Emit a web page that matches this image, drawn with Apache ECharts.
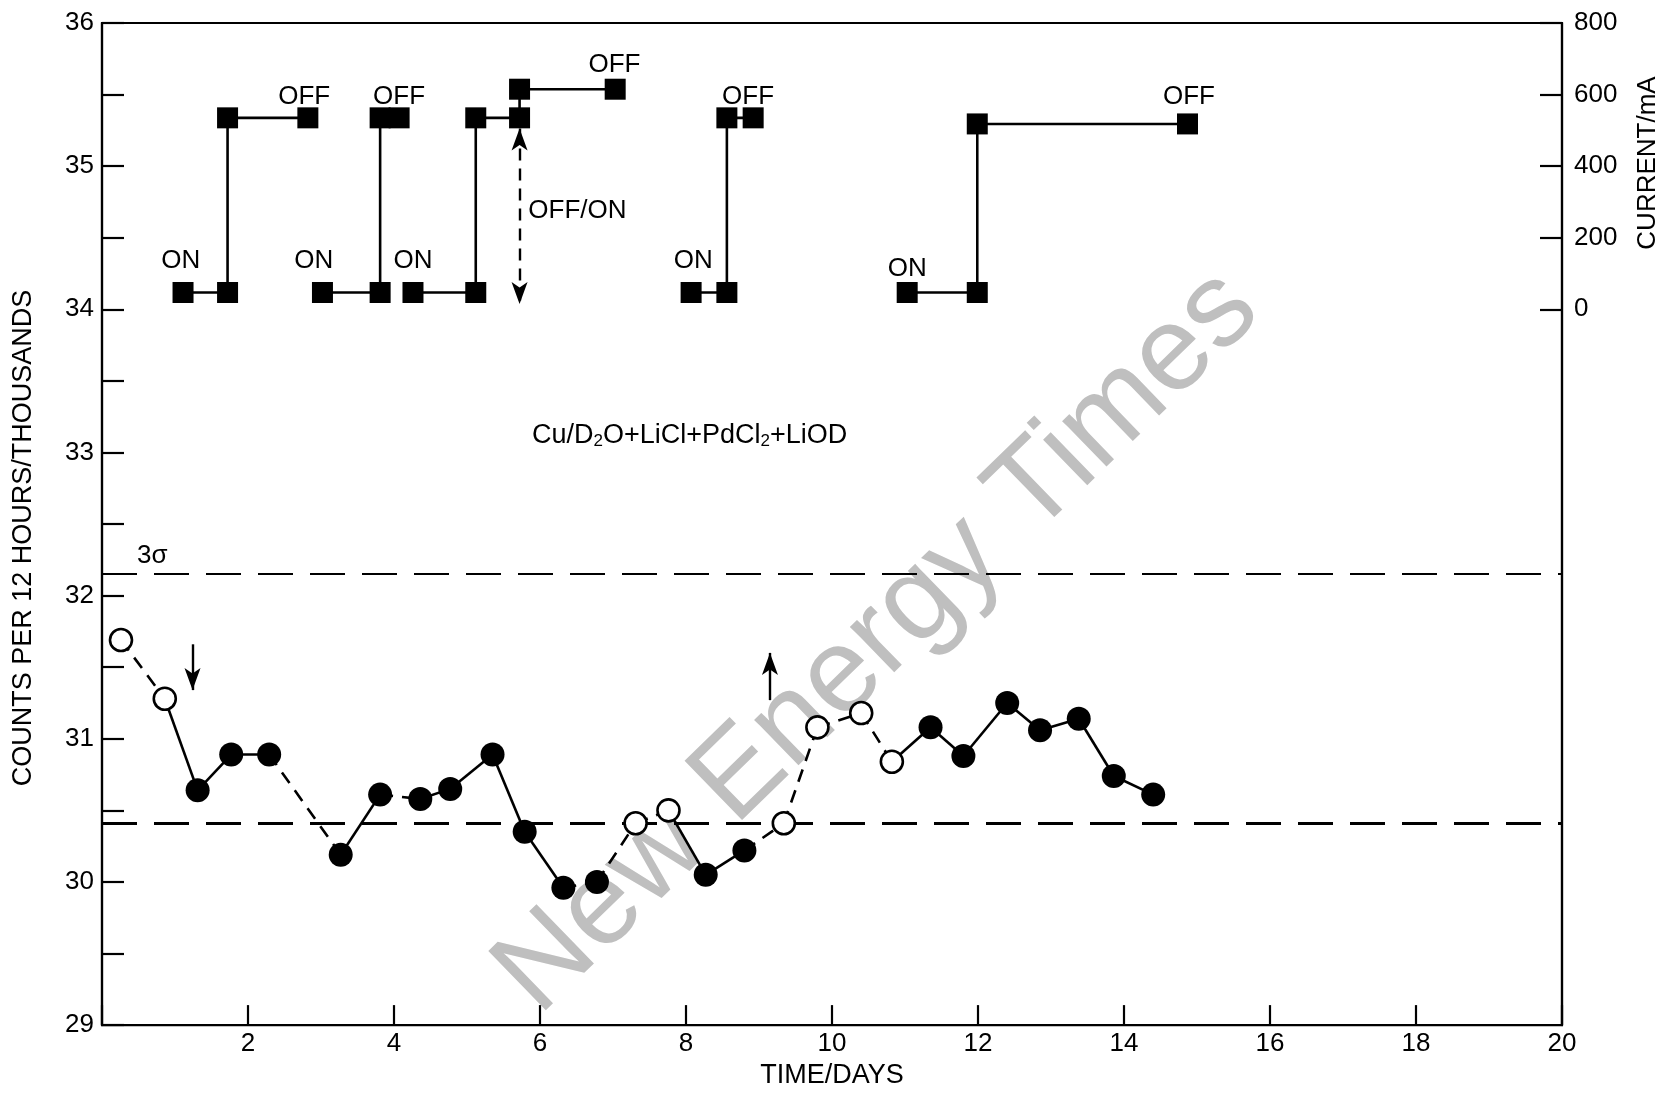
<!DOCTYPE html>
<html><head><meta charset="utf-8">
<script src="https://cdn.jsdelivr.net/npm/echarts@6/dist/echarts.min.js"></script>
<style>html,body{margin:0;padding:0;background:#fff}#c{width:1669px;height:1094px}</style>
</head><body><div id="c"></div>
<script>
// ---- data ----
const countDays   = [0.26,0.86,1.31,1.77,2.29,3.27,3.81,4.36,4.77,5.35,5.79,6.32,6.78,7.31,7.76,8.27,8.80,9.34,9.80,10.40,10.82,11.35,11.80,12.40,12.85,13.38,13.86,14.40];
const countValues = [31.69,31.28,30.64,30.89,30.89,30.19,30.61,30.58,30.65,30.89,30.35,29.96,30.00,30.41,30.50,30.05,30.22,30.41,31.08,31.18,30.84,31.08,30.88,31.25,31.06,31.14,30.74,30.61];
const countOpen   = [1,1,0,0,0,0,0,0,0,0,0,0,0,1,1,0,0,1,1,1,1,0,0,0,0,0,0,0];
// style of segment i (between point i and i+1): 1 = dashed, 0 = solid
const segDashed   = [1,0,0,0,1,0,1,0,0,0,0,1,1,1,0,0,1,1,1,1,0,0,0,0,0,0,0];
const sigmaLevel = 32.15;
const baseLevel  = 30.41;
const currentBlockDays = [
  [1.11,1.72,1.72,2.82],
  [3.02,3.81,3.81,4.07],
  [4.26,5.12,5.12,5.72,5.72,7.03],
  [8.07,8.56,8.56,8.92],
  [11.03,11.99,11.99,14.87]
];
const currentBlockmA = [
  [47,47,535,535],
  [47,47,535,535],
  [47,47,535,535,615,615],
  [47,47,535,535],
  [47,47,518,518]
];
const onLabelDays  = [1.08,2.90,4.26,8.10,11.03];
const onLabelmA    = [135,135,135,135,112];
const offLabelDays = [2.77,4.07,7.02,8.85,14.89];
const offLabelmA   = [594,594,682,594,594];
const xTickLabels  = [2,4,6,8,10,12,14,16,18,20];
const leftTickLabels  = [29,30,31,32,33,34,35,36];
const rightTickLabels = [0,200,400,600,800];

// ---- chart ----
const FONT = '"Liberation Sans", Arial, sans-serif';
const chart = echarts.init(document.getElementById('c'), null, {renderer:'canvas'});
const series = [];
for (let i = 0; i < countDays.length - 1; i++) {
  series.push({
    type:'line', xAxisIndex:0, yAxisIndex:0, silent:true, symbol:'none', z:3,
    data:[[countDays[i],countValues[i]],[countDays[i+1],countValues[i+1]]],
    lineStyle:{color:'#000', width:2.6, type: segDashed[i] ? [13,9] : 'solid'}
  });
}
const filled = [], open = [];
countDays.forEach((d,i)=>{ (countOpen[i]?open:filled).push([d,countValues[i]]); });
series.push({
  type:'scatter', yAxisIndex:0, data:filled, symbol:'circle', symbolSize:24, z:5,
  itemStyle:{color:'#000', opacity:1}, silent:true,
  markLine:{silent:true, symbol:'none', label:{show:false}, z:2,
    data:[
      {yAxis:sigmaLevel, lineStyle:{color:'#000', width:2, type:[35,17]}},
      {yAxis:baseLevel, lineStyle:{color:'#000', width:3.2, type:[35,17]}}
    ]}
});
series.push({
  type:'scatter', yAxisIndex:0, data:open, symbol:'circle', symbolSize:22, z:5,
  itemStyle:{color:'#fff', borderColor:'#000', borderWidth:2.6, opacity:1}, silent:true,
  markLine:{silent:true, symbol:['none','arrow'], symbolSize:[12,22], label:{show:false},
    lineStyle:{color:'#000', width:2.4, type:'solid'},
    data:[
      [{coord:[1.24,31.66]},{coord:[1.24,31.34]}],
      [{coord:[9.15,31.27]},{coord:[9.15,31.60]}]
    ]}
});
currentBlockDays.forEach((days,b)=>{
  series.push({
    type:'line', yAxisIndex:1, silent:true, z:4,
    data: days.map((d,i)=>[d,currentBlockmA[b][i]]),
    symbol:'rect', symbolSize:21, itemStyle:{color:'#000', opacity:1},
    lineStyle:{color:'#000', width:2.6}
  });
});
// OFF/ON double arrow
series.push({
  type:'scatter', yAxisIndex:1, data:[], silent:true,
  markLine:{silent:true, symbol:['arrow','arrow'], symbolSize:[12,22], label:{show:false},
    lineStyle:{color:'#000', width:2.4, type:[12,8]},
    data:[[{coord:[5.72,505]},{coord:[5.72,15]}]]}
});
const lbl = (txt)=>({show:true, position:'inside', formatter:txt, color:'#000', fontSize:26, fontFamily:FONT, opacity:1});
const labelItem = {opacity:1, color:'transparent'};
series.push({type:'scatter', yAxisIndex:1, symbolSize:1, silent:true, z:6, itemStyle:labelItem,
  data:onLabelDays.map((d,i)=>[d,onLabelmA[i]]), label:lbl('ON')});
series.push({type:'scatter', yAxisIndex:1, symbolSize:1, silent:true, z:6, itemStyle:labelItem,
  data:offLabelDays.map((d,i)=>[d,offLabelmA[i]]), label:lbl('OFF')});
series.push({type:'scatter', yAxisIndex:1, symbolSize:1, silent:true, z:6, itemStyle:labelItem,
  data:[[5.84,276]], label:{show:true, position:'inside', align:'left', formatter:'OFF/ON', color:'#000', fontSize:26, fontFamily:FONT}});
series.push({type:'scatter', yAxisIndex:0, symbolSize:1, silent:true, z:6, itemStyle:labelItem,
  data:[[0.69,32.28]], label:{show:true, position:'inside', formatter:'3σ', color:'#000', fontSize:26, fontFamily:FONT}});
series.push({type:'scatter', yAxisIndex:0, symbolSize:1, silent:true, z:6, itemStyle:labelItem,
  data:[[8.05,33.12]], label:{show:true, position:'inside',
    formatter:'{n|Cu/D}{s|2}{n|O+LiCl+PdCl}{s|2}{n|+LiOD}',
    rich:{n:{fontSize:27, fontFamily:FONT, color:'#000', lineHeight:32},
          s:{fontSize:17, fontFamily:FONT, color:'#000', lineHeight:32, padding:[13,0,0,0]}}}});

const axisLineStyle = {color:'#000', width:2.2};
chart.setOption({
  animation:false,
  backgroundColor:'#fff',
  grid:{left:102, right:107, top:23, bottom:55, show:true, borderColor:'#000', borderWidth:2.2, backgroundColor:'transparent'},
  xAxis:{type:'value', min:0, max:20, interval:2,
    name:'TIME/DAYS', nameLocation:'middle', nameGap:32,
    nameTextStyle:{color:'#000', fontSize:27, fontFamily:FONT},
    axisLine:{show:true, onZero:false, lineStyle:axisLineStyle},
    axisTick:{show:true, inside:true, length:20, lineStyle:axisLineStyle},
    axisLabel:{color:'#000', fontSize:26, fontFamily:FONT, margin:6,
      formatter:v=> xTickLabels.indexOf(v) >= 0 ? String(v) : ''},
    splitLine:{show:false}},
  yAxis:[
    {type:'value', min:29, max:36, interval:1, position:'left',
     axisLine:{show:true, onZero:false, lineStyle:axisLineStyle},
     axisTick:{show:true, inside:true, length:22, lineStyle:axisLineStyle},
     minorTick:{show:true, splitNumber:2, length:22, lineStyle:axisLineStyle},
     axisLabel:{color:'#000', fontSize:26, fontFamily:FONT, margin:8,
       formatter:v=> leftTickLabels.indexOf(v) >= 0 ? String(v) : ''},
     splitLine:{show:false}, minorSplitLine:{show:false}},
    {type:'value', min:-2000, max:800, interval:200, position:'right',
     axisLine:{show:true, onZero:false, lineStyle:axisLineStyle},
     axisTick:{show:true, inside:true, length:22, lineStyle:axisLineStyle, customValues:rightTickLabels},
     axisLabel:{color:'#000', fontSize:26, fontFamily:FONT, margin:12, customValues:rightTickLabels},
     splitLine:{show:false}}
  ],
  graphic:[
    {type:'text', x:878, y:642, rotation:0.77, z:-10, silent:true,
     style:{text:'New Energy Times', font:'120px "Liberation Sans", Arial, sans-serif', fill:'#bfbfbf', align:'center', verticalAlign:'middle'}},
    {type:'text', x:24, y:538, rotation:Math.PI/2, silent:true,
     style:{text:'COUNTS PER 12 HOURS/THOUSANDS', font:'27px "Liberation Sans", Arial, sans-serif', fill:'#000', align:'center', verticalAlign:'middle'}},
    {type:'text', x:1648, y:163, rotation:Math.PI/2, silent:true,
     style:{text:'CURRENT/mA', font:'26px "Liberation Sans", Arial, sans-serif', fill:'#000', align:'center', verticalAlign:'middle'}}
  ],
  series:series
});
</script>
</body></html>
